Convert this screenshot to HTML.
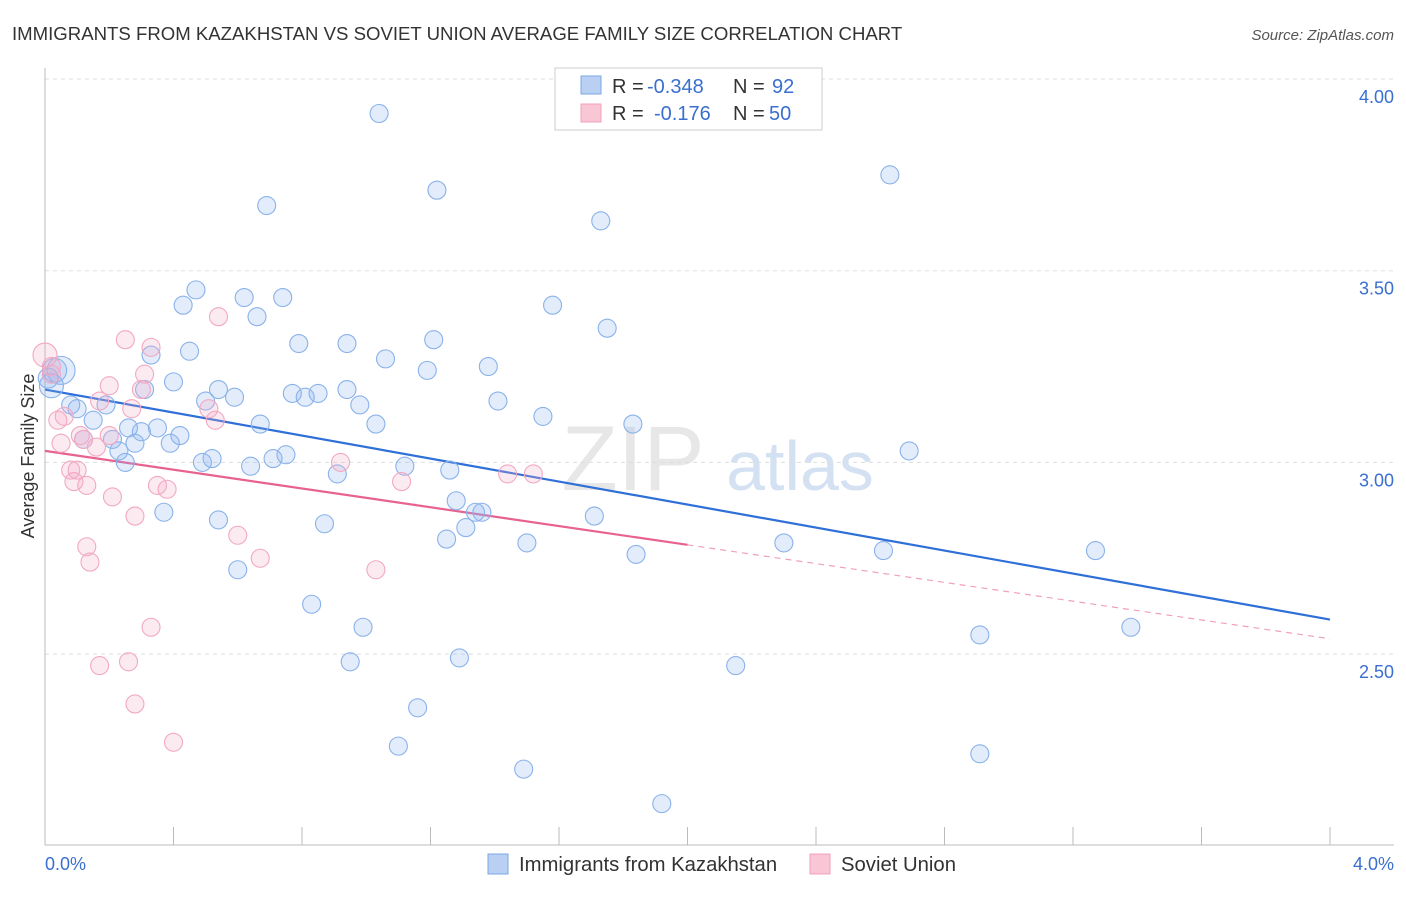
<!DOCTYPE html>
<html><head><meta charset="utf-8"><style>
body{margin:0;background:#fff;font-family:"Liberation Sans",sans-serif}
svg text{font-family:"Liberation Sans",sans-serif}
</style></head><body>
<svg id="chart" width="1406" height="892" xmlns="http://www.w3.org/2000/svg">
<text x="12" y="40" font-size="18.6" fill="#333">IMMIGRANTS FROM KAZAKHSTAN VS SOVIET UNION AVERAGE FAMILY SIZE CORRELATION CHART</text>
<text x="1394" y="40" font-size="15" fill="#555" font-style="italic" text-anchor="end">Source: ZipAtlas.com</text>
<text x="633" y="490" font-size="92" fill="#ccc" opacity="0.45" font-family="Liberation Serif" text-anchor="middle">ZIP</text>
<text x="800" y="490" font-size="70" fill="#a9c4e8" opacity="0.5" text-anchor="middle">atlas</text>
<g id="grid"></g><g id="axes"></g><g id="lines"></g><g id="pts"></g>
<text transform="translate(34,456) rotate(-90)" font-size="18" fill="#333" text-anchor="middle">Average Family Size</text>
<text x="45" y="870" font-size="18" fill="#3a6fd0">0.0%</text>
<text x="1394" y="870" font-size="18" fill="#3a6fd0" text-anchor="end">4.0%</text>
<g>
<rect x="555" y="68" width="267" height="62" fill="#fff" stroke="#ccc"/>
<rect x="581" y="76" width="20" height="18" fill="#b9d0f3" stroke="#7aa7e6"/>
<rect x="581" y="104" width="20" height="18" fill="#f9c6d6" stroke="#f0a0bc"/>
<text x="612" y="93" font-size="20" fill="#333">R =</text>
<text x="647" y="93" font-size="20" fill="#3a6fd0">-0.348</text>
<text x="733" y="93" font-size="20" fill="#333">N =</text>
<text x="772" y="93" font-size="20" fill="#3a6fd0">92</text>
<text x="612" y="120" font-size="20" fill="#333">R =</text>
<text x="654" y="120" font-size="20" fill="#3a6fd0">-0.176</text>
<text x="733" y="120" font-size="20" fill="#333">N =</text>
<text x="769" y="120" font-size="20" fill="#3a6fd0">50</text>
</g>
<g>
<rect x="488" y="854" width="20" height="20" fill="#b9d0f3" stroke="#7aa7e6"/>
<text x="519" y="871" font-size="20.3" fill="#333">Immigrants from Kazakhstan</text>
<rect x="810" y="854" width="20" height="20" fill="#f9c6d6" stroke="#f0a0bc"/>
<text x="841" y="871" font-size="20.3" fill="#333">Soviet Union</text>
</g>
</svg>
<script>
const yTicks=[4.0,3.5,3.0,2.5];
const yTickLabels=["4.00","3.50","3.00","2.50"];
const blueX=[1.04,1.22,0.69,1.73,2.63,0.47,0.43,0.62,0.74,0.66,1.58,1.75,0.79,0.94,1.21,0.45,0.33,1.06,1.19,1.38,0.40,0.31,0.54,0.77,0.85,0.94,0.50,0.59,0.81,1.41,0.98,0.19,0.08,0.10,0.15,1.55,0.67,1.03,0.35,0.26,1.83,0.42,0.30,0.21,0.12,0.39,0.28,0.23,2.69,0.49,0.52,0.25,0.64,0.71,0.75,1.12,0.91,1.26,1.28,0.37,1.36,1.34,0.54,0.87,1.31,1.71,1.25,1.50,2.30,1.84,2.61,3.27,0.60,0.83,0.99,3.38,2.91,1.29,0.95,2.15,1.16,1.10,1.49,2.91,1.92,0.05,0.03,0.02,0.01];
const blueY=[3.91,3.71,3.67,3.63,3.75,3.45,3.41,3.43,3.43,3.38,3.41,3.35,3.31,3.31,3.32,3.29,3.28,3.27,3.24,3.25,3.21,3.19,3.19,3.18,3.18,3.19,3.16,3.17,3.17,3.16,3.15,3.15,3.15,3.14,3.11,3.12,3.10,3.10,3.09,3.09,3.10,3.07,3.08,3.06,3.06,3.05,3.05,3.03,3.03,3.00,3.01,3.00,2.99,3.01,3.02,2.99,2.97,2.98,2.90,2.87,2.87,2.87,2.85,2.84,2.83,2.86,2.80,2.79,2.79,2.76,2.77,2.77,2.72,2.63,2.57,2.57,2.55,2.49,2.48,2.47,2.36,2.26,2.20,2.24,2.11,3.24,3.24,3.20,3.22];
const blueSize=[9,9,9,9,9,9,9,9,9,9,9,9,9,9,9,9,9,9,9,9,9,9,9,9,9,9,9,9,9,9,9,9,9,9,9,9,9,9,9,9,9,9,9,9,9,9,9,9,9,9,9,9,9,9,9,9,9,9,9,9,9,9,9,9,9,9,9,9,9,9,9,9,9,9,9,9,9,9,9,9,9,9,9,9,9,14,12,12,10];
const pinkX=[0.00,0.02,0.02,0.25,0.33,0.54,0.20,0.31,0.30,0.17,0.27,0.51,0.06,0.04,0.53,0.11,0.20,0.12,0.16,0.05,0.92,0.08,0.10,1.44,1.52,1.11,0.09,0.13,0.35,0.38,0.21,0.28,0.60,0.13,0.67,0.14,1.03,0.33,0.26,0.17,0.28,0.40];
const pinkY=[3.28,3.25,3.23,3.32,3.30,3.38,3.20,3.23,3.19,3.16,3.14,3.14,3.12,3.11,3.11,3.07,3.07,3.06,3.04,3.05,3.00,2.98,2.98,2.97,2.97,2.95,2.95,2.94,2.94,2.93,2.91,2.86,2.81,2.78,2.75,2.74,2.72,2.57,2.48,2.47,2.37,2.27];
const blueFit=[3.19,2.59];
const pinkFit=[3.03,2.54];
const pinkSolidEnd=2.0;
const NS="http://www.w3.org/2000/svg";
const xs=v=>45+v/4*1285;
const ys=v=>79+(4-v)/0.5*191.7;
function mk(tag,attrs,parent){const e=document.createElementNS(NS,tag);for(const k in attrs)e.setAttribute(k,attrs[k]);document.getElementById(parent).appendChild(e);return e;}
yTicks.forEach((t,i)=>{
 const l=mk('line',{x1:45,x2:1394,y1:ys(t),y2:ys(t),stroke:'#ddd','stroke-dasharray':'4,4'},'grid');
 
 
 const tx=mk('text',{x:1394,y:ys(t)+24,'font-size':18,fill:'#3a6fd0','text-anchor':'end'},'grid');
 tx.textContent=yTickLabels[i];
 
 
});
const ax=mk('line',{x1:45,x2:1394,y1:845,y2:845,stroke:'#bbb'},'axes');


const ay=mk('line',{x1:45,x2:45,y1:68,y2:845,stroke:'#bbb'},'axes');


for(let i=0;i<=10;i++){const t=mk('line',{x1:xs(i*0.4),x2:xs(i*0.4),y1:827,y2:845,stroke:'#bbb'},'axes');
 
 }
blueX.forEach((x,i)=>{const c=mk('circle',{cx:xs(x),cy:ys(blueY[i]),r:blueSize[i]||9,fill:'rgba(140,180,240,0.25)',stroke:'#8ab2ea','stroke-width':1.1},'pts');
 
 });
pinkX.forEach((x,i)=>{const c=mk('circle',{cx:xs(x),cy:ys(pinkY[i]),r:i<1?12:9,fill:'rgba(245,170,200,0.25)',stroke:'#f2a8c2','stroke-width':1.1},'pts');
 
 });
const bl=mk('line',{x1:xs(0),y1:ys(blueFit[0]),x2:xs(4),y2:ys(blueFit[1]),stroke:'#2f6fd8','stroke-width':2.2},'lines');


const pm=pinkFit[0]+(pinkFit[1]-pinkFit[0])*pinkSolidEnd/4;
const pl=mk('line',{x1:xs(0),y1:ys(pinkFit[0]),x2:xs(pinkSolidEnd),y2:ys(pm),stroke:'#e8628f','stroke-width':2.2},'lines');


const pd=mk('line',{x1:xs(pinkSolidEnd),y1:ys(pm),x2:xs(4),y2:ys(pinkFit[1]),stroke:'#f0a0bc','stroke-width':1.2,'stroke-dasharray':'6,5'},'lines');


</script>
</body></html>
